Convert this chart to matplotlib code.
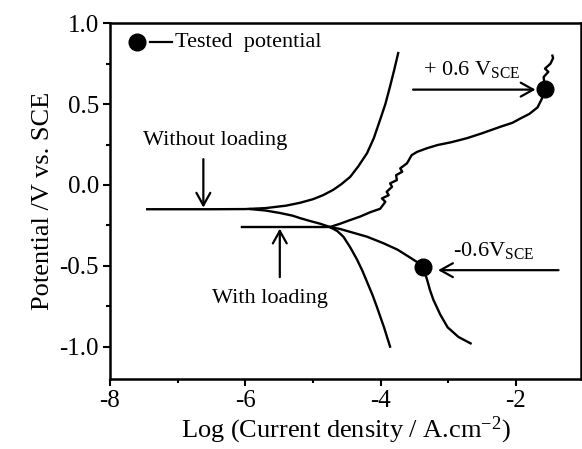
import matplotlib
matplotlib.use("Agg")
import matplotlib.pyplot as plt

plt.rcParams['font.family'] = ['Liberation Serif', 'DejaVu Serif']
plt.rcParams['mathtext.fontset'] = 'custom'
plt.rcParams['mathtext.rm'] = 'Liberation Serif'
plt.rcParams['mathtext.it'] = 'Liberation Serif:italic'

# without loading: flat part + anodic branch
wo_anod_x = [-7.45, -6.5, -6.0, -5.7, -5.4, -5.19, -5.0, -4.85, -4.70, -4.58, -4.45,
             -4.33, -4.20, -4.10, -4.01, -3.93, -3.86, -3.80, -3.74]
wo_anod_y = [-0.15, -0.15, -0.149, -0.143, -0.128, -0.11, -0.088, -0.063, -0.03, 0.005, 0.05,
             0.115, 0.197, 0.29, 0.40, 0.50, 0.61, 0.71, 0.816]

# without loading: cathodic branch
wo_cath_x = [-5.93, -5.7, -5.49, -5.3, -5.19, -5.05, -4.89, -4.75, -4.64, -4.55, -4.45,
             -4.35, -4.27, -4.2, -4.12, -4.05, -3.95, -3.86]
wo_cath_y = [-0.149, -0.158, -0.173, -0.19, -0.205, -0.222, -0.24, -0.26, -0.285, -0.32, -0.385,
             -0.46, -0.53, -0.6, -0.68, -0.76, -0.88, -1.0]

# with loading: flat part + anodic (noisy) branch
wl_anod_x = [-6.05, -5.5, -5.0, -4.75, -4.6, -4.45, -4.3, -4.15, -4.006, -3.93, -3.98, -3.88,
             -3.91, -3.83, -3.86, -3.76, -3.77, -3.68, -3.71, -3.61, -3.54, -3.46, -3.31,
             -3.16, -2.95, -2.72, -2.5, -2.23, -2.05, -1.94, -1.8, -1.68, -1.62, -1.57,
             -1.59, -1.52, -1.57, -1.49, -1.45, -1.46]
wl_anod_y = [-0.26, -0.26, -0.26, -0.26, -0.24, -0.217, -0.195, -0.168, -0.147, -0.104, -0.083,
             -0.063, -0.042, -0.011, 0.010, 0.030, 0.061, 0.082, 0.103, 0.134, 0.185, 0.205,
             0.228, 0.247, 0.265, 0.29, 0.32, 0.36, 0.385, 0.41, 0.44, 0.48, 0.53, 0.594,
             0.668, 0.70, 0.72, 0.75, 0.785, 0.80]

# with loading: cathodic branch
wl_cath_x = [-4.75, -4.6, -4.45, -4.2, -3.96, -3.75, -3.56, -3.45, -3.37, -3.34, -3.31,
             -3.27, -3.22, -3.12, -3.01, -2.85, -2.67]
wl_cath_y = [-0.26, -0.272, -0.29, -0.32, -0.36, -0.40, -0.45, -0.48, -0.507, -0.55, -0.59,
             -0.65, -0.71, -0.80, -0.88, -0.94, -0.98]

# tested potentials
tested_x = [-1.57, -3.37]
tested_y = [0.594, -0.507]

fig = plt.figure(figsize=(5.82, 4.49), dpi=100)
ax = fig.add_axes([0.189, 0.156, 0.809, 0.792])

for xs, ys in [(wo_anod_x, wo_anod_y), (wo_cath_x, wo_cath_y),
               (wl_anod_x, wl_anod_y), (wl_cath_x, wl_cath_y)]:
    ax.plot(xs, ys, color='black', lw=1.7, solid_joinstyle='round')

ax.plot(tested_x, tested_y, 'o', color='black', ms=12, zorder=5)

ax.set_xlim(-8, -1.04)
ax.set_ylim(-1.2, 1.0)
ax.set_xticks([-8, -6, -4, -2])
ax.set_xticks([-7, -5, -3], minor=True)
ax.set_yticks([-1.0, -0.5, 0.0, 0.5, 1.0])
ax.set_yticks([-0.75, -0.25, 0.25, 0.75], minor=True)
ax.set_yticklabels(['-1.0', '-0.5', '0.0', '0.5', '1.0'])
ax.set_xticklabels(['-8', '-6', '-4', '-2'])
ax.tick_params(which='major', direction='out', length=5, width=1.5, labelsize=18, pad=3)
ax.tick_params(which='minor', direction='out', length=3, width=1.5)
for s in ax.spines.values():
    s.set_linewidth(1.8)

ax.set_xlabel('Log (Current density / A.cm$^{\\mathrm{-2}}$)', fontsize=19, labelpad=2)
ax.set_ylabel('Potential /V vs. SCE', fontsize=19, labelpad=4)

arrow = dict(arrowstyle='->,head_length=0.45,head_width=0.25', color='black',
             lw=1.6, mutation_scale=20, shrinkA=0, shrinkB=0)

ax.text(-7.51, 0.25, 'Without loading', fontsize=16)
ax.annotate('', xy=(-6.62, -0.14), xytext=(-6.62, 0.16), arrowprops=arrow)

ax.text(-6.49, -0.73, 'With loading', fontsize=16)
ax.annotate('', xy=(-5.49, -0.27), xytext=(-5.49, -0.57), arrowprops=arrow)

ax.text(-3.38, 0.68, '+ 0.6 V$_{\\mathrm{SCE}}$', fontsize=16)
ax.annotate('', xy=(-1.71, 0.59), xytext=(-3.52, 0.59), arrowprops=arrow)

ax.text(-2.93, -0.44, '-0.6V$_{\\mathrm{SCE}}$', fontsize=16)
ax.annotate('', xy=(-3.15, -0.527), xytext=(-1.37, -0.527), arrowprops=arrow)

# legend entry drawn by hand
ax.plot([0.057], [0.947], 'o', color='black', ms=12, transform=ax.transAxes, clip_on=False)
ax.plot([0.085, 0.132], [0.947, 0.947], color='black', lw=1.6, transform=ax.transAxes)
ax.text(0.138, 0.947, 'Tested  potential', fontsize=16, va='center', transform=ax.transAxes)

fig.savefig('out.png', dpi=100)
